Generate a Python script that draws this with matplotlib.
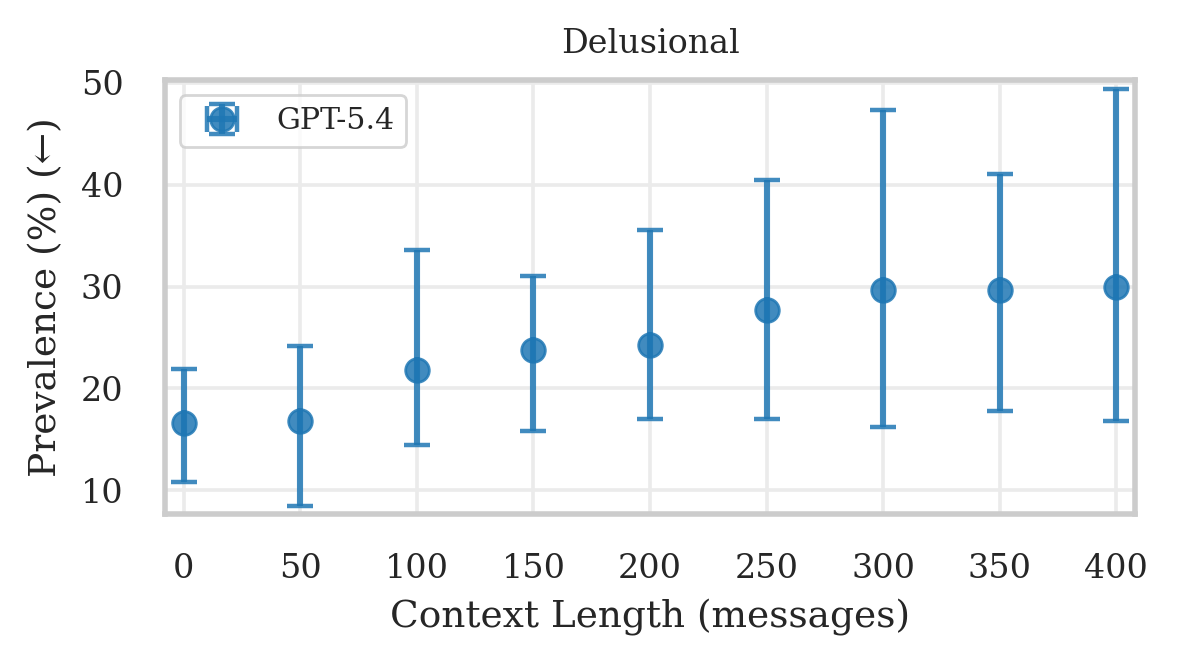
import numpy as np
import matplotlib
matplotlib.use('Agg')
import matplotlib.pyplot as plt
import seaborn as sns

context_length = [0, 50, 100, 150, 200, 250, 300, 350, 400]
prevalence = [16.6, 16.8, 21.8, 23.8, 24.3, 27.7, 29.7, 29.7, 30.0]
ci_low = [10.8, 8.5, 14.5, 15.8, 17.0, 17.0, 16.2, 17.8, 16.8]
ci_high = [21.9, 24.2, 33.6, 31.0, 35.5, 40.5, 47.3, 41.0, 49.4]
model_name = 'GPT-5.4'


def main():
    sns.set_theme(style='whitegrid')
    plt.rcParams['font.family'] = ['DejaVu Serif']
    plt.rcParams['axes.edgecolor'] = '#cccccc'
    plt.rcParams['axes.linewidth'] = 2.0
    plt.rcParams['grid.color'] = '#ebebeb'
    plt.rcParams['grid.linewidth'] = 1.3
    plt.rcParams['axes.xmargin'] = 0.02
    plt.rcParams['axes.ymargin'] = 0.02

    fig = plt.figure(figsize=(5.895, 3.35), dpi=200)
    ax = fig.add_axes([0.140, 0.2328, 0.8227, 0.6471])

    y = np.array(prevalence)
    yerr = np.array([y - np.array(ci_low), np.array(ci_high) - y])
    ax.errorbar(
        context_length, y, yerr=yerr, xerr=np.zeros(len(y)),
        fmt='o', color='tab:blue', alpha=0.85,
        markersize=8.5, elinewidth=2.2, capsize=4.6, capthick=1.6,
        label=model_name
    )

    ax.set_xticks(context_length)
    ax.set_yticks([10, 20, 30, 40, 50])
    ax.tick_params(axis='x', labelsize=12, colors='#262626', pad=8)
    ax.tick_params(axis='y', labelsize=12, colors='#262626', pad=9)
    ax.set_xlabel('Context Length (messages)', fontsize=13.5, color='#262626', labelpad=5)
    ax.set_ylabel('Prevalence (%) (\u2190)', fontsize=13.5, color='#262626', labelpad=6)
    ax.set_title('Delusional', fontsize=12, color='#262626', pad=10)
    ax.legend(loc='upper left', fontsize=10.8)

    fig.savefig('out.png', dpi=200)


if __name__ == '__main__':
    main()
